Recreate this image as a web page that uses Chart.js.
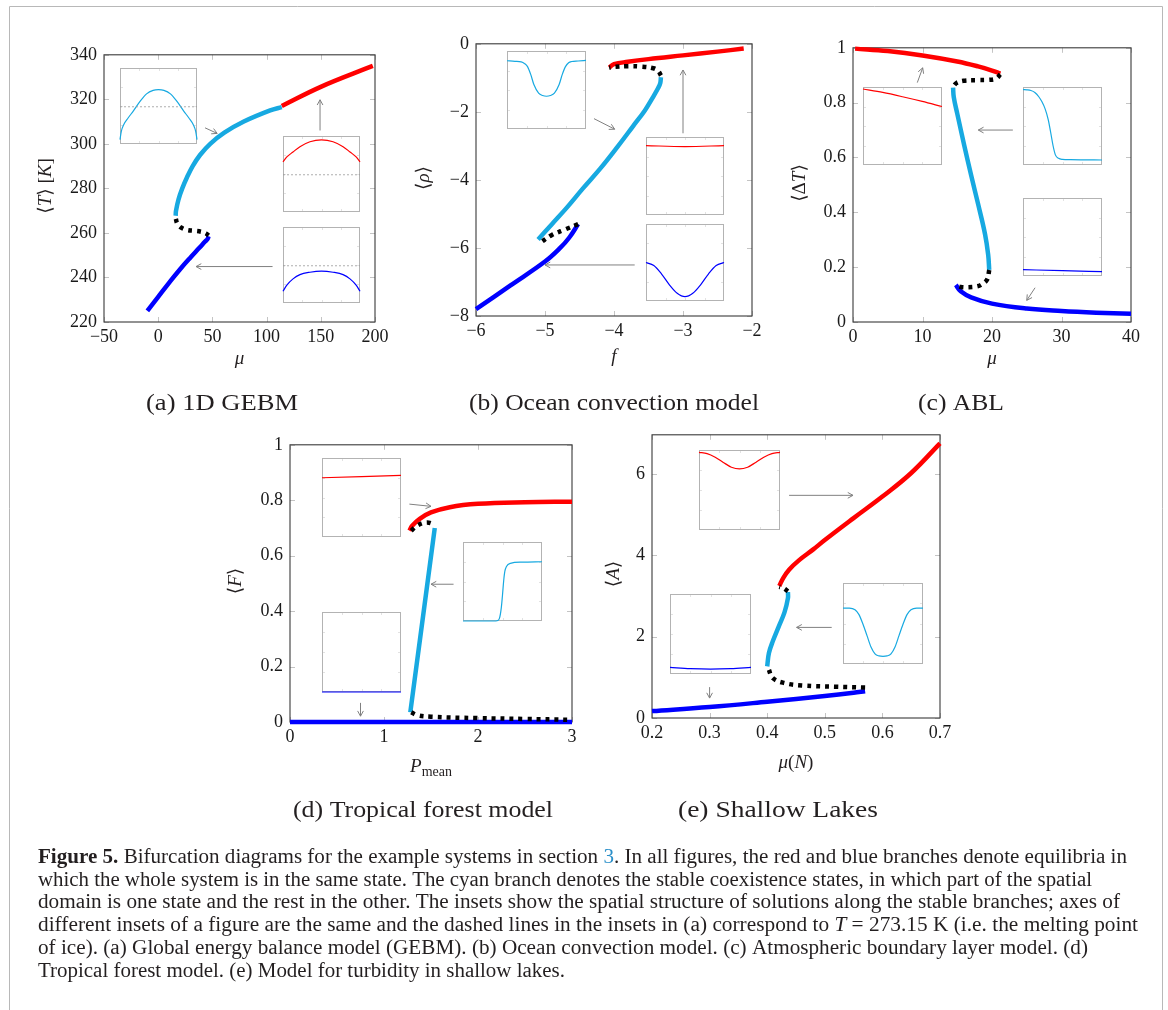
<!DOCTYPE html>
<html>
<head>
<meta charset="utf-8">
<script src="https://cdn.jsdelivr.net/npm/chart.js@4.4.1/dist/chart.umd.min.js"></script>
<style>
html, body { margin: 0; padding: 0; background: #fff; }
#page { position: relative; width: 1168px; height: 1010px; overflow: hidden; }
#page canvas { position: absolute; }
</style>
</head>
<body>
<div id="page"><canvas id="text" width="1168" height="1010" style="left:0;top:0"></canvas></div>
<script>
/* ============================= */
/*      DATA   */
/* ============================= */

// (a) 1D GEBM
const aXTicks = [-50, 0, 50, 100, 150, 200];
const aYTicks = [220, 240, 260, 280, 300, 320, 340];
const aBlueMu = [-10, 0, 10, 20, 30, 38, 43, 45.5, 46.5];
const aBlueT = [225, 231.3, 237.6, 243.6, 249.1, 253.3, 256, 257.3, 258.5];
const aDotMu = [16.3, 17.5, 20.5, 26, 33, 40, 44, 46.5];
const aDotT = [266.3, 264.3, 262.6, 261.4, 261.0, 260.5, 259.8, 258.8];
const aCyanMu = [16.1, 16.45, 18.7, 22.2, 26.6, 31.8, 38.6, 48, 61, 79, 103.3, 114];
const aCyanT = [267.7, 270, 275, 280, 285, 290, 295, 300, 305, 310, 315, 316.5];
const aRedMu = [114, 150, 198];
const aRedT = [317, 325.6, 335];
const aArrows = [[43.2, 307.2, 54.4, 304.7], [149.3, 306, 149.3, 319.8], [105.5, 244.9, 34.9, 244.9]];

// (b) Ocean convection model
const bXTicks = [-6, -5, -4, -3, -2];
const bYTicks = [-8, -6, -4, -2, 0];
const bBlueF = [-6, -5.5, -5, -4.78, -4.65, -4.52];
const bBlueR = [-7.8, -7.1, -6.4, -6.0, -5.7, -5.3];
const bDotLowF = [-4.52, -4.7, -4.9, -5.07];
const bDotLowR = [-5.3, -5.45, -5.62, -5.85];
const bCyanF = [-5.1, -4.9, -4.69, -4.45, -4.2, -3.95, -3.72, -3.55, -3.43, -3.36, -3.33, -3.32];
const bCyanR = [-5.75, -5.3, -4.83, -4.25, -3.67, -3.03, -2.41, -1.95, -1.55, -1.3, -1.16, -0.98];
const bDotUpF = [-3.32, -3.36, -3.43, -3.6, -3.8, -4.0, -4.07];
const bDotUpR = [-0.93, -0.8, -0.72, -0.67, -0.66, -0.68, -0.7];
const bRedF = [-4.07, -4.0, -3.8, -3.5, -3.0, -2.5, -2.12];
const bRedR = [-0.7, -0.6, -0.53, -0.45, -0.34, -0.23, -0.14];
const bArrows = [[-4.29, -2.2, -3.99, -2.51], [-3.0, -2.63, -3.0, -0.77], [-3.7, -6.5, -5.0, -6.5]];

// (c) ABL
const cXTicks = [0, 10, 20, 30, 40];
const cYTicks = [0, 0.2, 0.4, 0.6, 0.8, 1];
const cRedMu = [0.3, 5, 10, 15, 18, 20, 21.2];
const cRedT = [0.997, 0.988, 0.972, 0.95, 0.932, 0.917, 0.906];
const cDotUpMu = [21.2, 20.6, 19.5, 17.8, 15.9, 14.9, 14.5];
const cDotUpT = [0.903, 0.888, 0.883, 0.882, 0.88, 0.872, 0.862];
const cCyanMu = [14.4, 14.5, 15, 16, 17, 18, 19, 19.45, 19.6];
const cCyanT = [0.855, 0.82, 0.76, 0.645, 0.535, 0.43, 0.32, 0.245, 0.19];
const cDotLowMu = [19.6, 19.3, 18.5, 17.8, 16.5, 15.5, 14.8];
const cDotLowT = [0.19, 0.155, 0.137, 0.13, 0.127, 0.128, 0.133];
const cBlueMu = [14.8, 15.5, 17, 20, 25, 30, 35, 40];
const cBlueT = [0.135, 0.112, 0.09, 0.067, 0.049, 0.04, 0.034, 0.03];
const cArrows = [[9.25, 0.873, 10.03, 0.927], [23.0, 0.7, 18.03, 0.7], [26.2, 0.125, 25.0, 0.079]];

// (d) Tropical forest model
const dXTicks = [0, 1, 2, 3];
const dYTicks = [0, 0.2, 0.4, 0.6, 0.8, 1];
const dBlueP = [0, 3];
const dBlueF = [0, 0];
const dRedP = [1.27, 1.3, 1.38, 1.5, 1.7, 2, 2.5, 3];
const dRedF = [0.69, 0.708, 0.733, 0.756, 0.775, 0.787, 0.793, 0.795];
const dDotUpP = [1.29, 1.35, 1.45, 1.54];
const dDotUpF = [0.69, 0.708, 0.72, 0.713];
const dCyanP = [1.54, 1.28];
const dCyanF = [0.70, 0.035];
const dDotLowP = [1.29, 1.35, 1.5, 2, 2.5, 3];
const dDotLowF = [0.035, 0.025, 0.019, 0.014, 0.011, 0.008];
const dArrows = [[1.27, 0.786, 1.50, 0.778], [1.74, 0.497, 1.50, 0.497], [0.75, 0.069, 0.75, 0.021]];

// (e) Shallow lakes
const eXTicks = [0.2, 0.3, 0.4, 0.5, 0.6, 0.7];
const eYTicks = [0, 2, 4, 6];
const eYMax = 6.97;
const eBlueM = [0.2, 0.3, 0.4, 0.5, 0.55, 0.57];
const eBlueA = [0.17, 0.27, 0.4, 0.54, 0.62, 0.66];
const eDotLowM = [0.57, 0.52, 0.46, 0.43, 0.41, 0.402];
const eDotLowA = [0.75, 0.77, 0.8, 0.86, 0.98, 1.22];
const eCyanM = [0.4, 0.403, 0.41, 0.42, 0.43, 0.436, 0.436];
const eCyanA = [1.27, 1.6, 1.9, 2.25, 2.6, 2.95, 3.1];
const eDotUpM = [0.436, 0.428, 0.421];
const eDotUpA = [3.12, 3.2, 3.23];
const eRedM = [0.421, 0.428, 0.438, 0.455, 0.48, 0.5, 0.55, 0.6, 0.65, 0.7];
const eRedA = [3.25, 3.45, 3.65, 3.88, 4.15, 4.38, 4.92, 5.45, 6.03, 6.76];
const eArrows = [[0.438, 5.48, 0.549, 5.48], [0.512, 2.23, 0.451, 2.23], [0.300, 0.76, 0.300, 0.49]];

// insets: profiles across the domain (x and y normalised to the inset box)
const arcX = [0, 0.05, 0.13, 0.22, 0.35, 0.5, 0.65, 0.78, 0.87, 0.95, 1];
const tenthX = [0, 0.1, 0.2, 0.3, 0.4, 0.5, 0.6, 0.7, 0.8, 0.9, 1];
const edgeX = [0, 1];
const aInsetCyanX = [0, 0.017, 0.048, 0.105, 0.17, 0.26, 0.345, 0.43, 0.5, 0.57, 0.655, 0.74, 0.83, 0.895, 0.952, 0.983, 1];
const aInsetCyanY = [0.057, 0.167, 0.254, 0.342, 0.43, 0.56, 0.66, 0.706, 0.715, 0.706, 0.66, 0.56, 0.43, 0.342, 0.254, 0.167, 0.057];
const aInsetRedY = [0.66, 0.725, 0.79, 0.86, 0.925, 0.95, 0.925, 0.86, 0.79, 0.725, 0.66];
const aInsetBlueY = [0.154, 0.235, 0.317, 0.374, 0.405, 0.419, 0.405, 0.374, 0.317, 0.235, 0.154];
const aIceLevel = [0.49, 0.49];
const bInsetCyanX = [0, 0.1, 0.18, 0.22, 0.26, 0.3, 0.34, 0.4, 0.45, 0.5, 0.55, 0.6, 0.66, 0.7, 0.74, 0.78, 0.82, 0.9, 1];
const bInsetCyanY = [0.875, 0.868, 0.86, 0.84, 0.8, 0.7, 0.57, 0.46, 0.43, 0.42, 0.43, 0.46, 0.57, 0.7, 0.8, 0.85, 0.865, 0.872, 0.88];
const bInsetRedX = [0, 0.5, 1];
const bInsetRedY = [0.89, 0.876, 0.89];
const bInsetBlueY = [0.5, 0.46, 0.35, 0.21, 0.1, 0.056, 0.1, 0.21, 0.35, 0.46, 0.5];
const cInsetRedX = [0, 0.25, 0.5, 0.75, 1];
const cInsetRedY = [0.974, 0.93, 0.875, 0.815, 0.75];
const cInsetCyanX = [0, 0.05, 0.1, 0.15, 0.2, 0.24, 0.28, 0.32, 0.35, 0.38, 0.41, 0.45, 0.5, 0.6, 0.8, 1];
const cInsetCyanY = [0.966, 0.963, 0.955, 0.93, 0.875, 0.81, 0.72, 0.58, 0.42, 0.25, 0.13, 0.085, 0.072, 0.068, 0.066, 0.064];
const cInsetBlueX = [0, 0.5, 1];
const cInsetBlueY = [0.081, 0.068, 0.056];
const dInsetRedY = [0.75, 0.78];
const dInsetBlueY = [0, 0];
const dInsetCyanX = [0, 0.2, 0.4, 0.43, 0.46, 0.485, 0.5, 0.515, 0.53, 0.55, 0.6, 0.75, 1];
const dInsetCyanY = [0, 0, 0, 0.003, 0.03, 0.17, 0.33, 0.51, 0.63, 0.69, 0.73, 0.745, 0.75];
const eInsetRedY = [0.97, 0.955, 0.91, 0.845, 0.785, 0.763, 0.785, 0.845, 0.91, 0.955, 0.97];
const eInsetBlueX = [0, 0.25, 0.5, 0.75, 1];
const eInsetBlueY = [0.083, 0.068, 0.062, 0.068, 0.083];
const eInsetCyanX = [0, 0.08, 0.15, 0.2, 0.25, 0.3, 0.35, 0.4, 0.45, 0.5, 0.55, 0.6, 0.65, 0.7, 0.75, 0.8, 0.85, 0.92, 1];
const eInsetCyanY = [0.69, 0.69, 0.67, 0.61, 0.49, 0.35, 0.21, 0.125, 0.1, 0.095, 0.1, 0.125, 0.21, 0.35, 0.49, 0.61, 0.67, 0.69, 0.69];

/* ============================= */
/*      STYLE / LAYOUT           */
/* ============================= */
const RED = '#ff0000', BLUE = '#0000ff', CYAN = '#17a9e1', INK = '#231f20';
const SERIF = '"Liberation Serif", "DejaVu Sans", serif';
const YW = 70, XH = 52, PT = 14, PR = 24;
const page = document.getElementById('page');

const pts = (xs, ys) => xs.map((x, i) => ({ x: x, y: ys[i] }));
const fmt = v => String(v).replace('-', '\u2212');

function branch(xs, ys, color, dotted) {
    return {
        data: pts(xs, ys),
        borderColor: color,
        borderWidth: 4.5,
        borderDash: dotted ? [4, 5] : [],
        borderCapStyle: 'butt',
        tension: 0.4,
        pointRadius: 0,
        fill: false,
        clip: 6
    };
}

// frame + inward tick marks (pgfplots look)
const framePlugin = {
    id: 'frame',
    beforeDatasetsDraw(chart) {
        const { ctx, chartArea: a, scales: { x, y } } = chart;
        ctx.save();
        ctx.strokeStyle = '#c4c4c4';
        ctx.lineWidth = 1;
        ctx.beginPath();
        x.ticks.forEach(t => {
            const p = Math.round(x.getPixelForValue(t.value)) + 0.5;
            ctx.moveTo(p, a.bottom); ctx.lineTo(p, a.bottom - 5);
            ctx.moveTo(p, a.top); ctx.lineTo(p, a.top + 5);
        });
        y.ticks.forEach(t => {
            const p = Math.round(y.getPixelForValue(t.value)) + 0.5;
            ctx.moveTo(a.left, p); ctx.lineTo(a.left + 5, p);
            ctx.moveTo(a.right, p); ctx.lineTo(a.right - 5, p);
        });
        ctx.stroke();
        ctx.strokeStyle = '#3a3a3a';
        ctx.lineWidth = 1.1;
        ctx.strokeRect(a.left, a.top, a.width, a.height);
        ctx.restore();
    }
};

function arrowPlugin(list) {
    return {
        id: 'arrows',
        afterDatasetsDraw(chart) {
            const { ctx, scales: { x, y } } = chart;
            ctx.save();
            ctx.strokeStyle = '#808080';
            ctx.lineWidth = 1;
            list.forEach(([x1, y1, x2, y2]) => {
                const px1 = x.getPixelForValue(x1), py1 = y.getPixelForValue(y1);
                const px2 = x.getPixelForValue(x2), py2 = y.getPixelForValue(y2);
                const ang = Math.atan2(py2 - py1, px2 - px1), h = 6;
                ctx.beginPath();
                ctx.moveTo(px1, py1); ctx.lineTo(px2, py2);
                ctx.moveTo(px2 - h * Math.cos(ang - 0.5), py2 - h * Math.sin(ang - 0.5));
                ctx.lineTo(px2, py2);
                ctx.lineTo(px2 - h * Math.cos(ang + 0.5), py2 - h * Math.sin(ang + 0.5));
                ctx.stroke();
            });
            ctx.restore();
        }
    };
}

function axis(range, ticks, w) {
    return {
        type: 'linear',
        min: range[0],
        max: range[1],
        afterBuildTicks: s => { s.ticks = ticks.map(v => ({ value: v })); },
        afterFit: s => { if (w === 'x') s.height = XH; else s.width = YW; },
        grid: { display: false, drawTicks: false },
        border: { display: false },
        ticks: {
            autoSkip: false, maxRotation: 0,
            padding: w === 'x' ? 4 : 7,
            color: '#1a1a1a',
            font: { family: SERIF, size: 18 },
            callback: v => fmt(v)
        }
    };
}

function mainChart(box, xr, yr, xTicks, yTicks, sets, arrows) {
    const c = document.createElement('canvas');
    c.width = box.r - box.l + YW + PR;
    c.height = box.b - box.t + PT + XH;
    c.style.left = (box.l - YW) + 'px';
    c.style.top = (box.t - PT) + 'px';
    page.appendChild(c);
    new Chart(c, {
        type: 'line',
        data: { datasets: sets },
        options: {
            responsive: false, animation: false, events: [],
            layout: { padding: { left: 0, top: PT, right: PR, bottom: 0 } },
            plugins: { legend: { display: false }, tooltip: { enabled: false } },
            scales: { x: axis(xr, xTicks, 'x'), y: axis(yr, yTicks, 'y') }
        },
        plugins: [framePlugin, arrowPlugin(arrows)]
    });
}

const insetFrame = {
    id: 'insetFrame',
    beforeDatasetsDraw(chart) {
        const { ctx, chartArea: a } = chart;
        ctx.save();
        ctx.strokeStyle = '#e2e2e2';
        ctx.lineWidth = 1;
        ctx.beginPath();
        [0.25, 0.5, 0.75].forEach(f => {
            const px = Math.round(a.left + f * a.width) + 0.5, py = Math.round(a.top + f * a.height) + 0.5;
            ctx.moveTo(px, a.top); ctx.lineTo(px, a.top + 3);
            ctx.moveTo(px, a.bottom); ctx.lineTo(px, a.bottom - 3);
            ctx.moveTo(a.left, py); ctx.lineTo(a.left + 3, py);
            ctx.moveTo(a.right, py); ctx.lineTo(a.right - 3, py);
        });
        ctx.stroke();
        ctx.strokeStyle = '#b3b3b3';
        ctx.strokeRect(Math.round(a.left) + 0.5, Math.round(a.top) + 0.5, Math.round(a.width) - 1, Math.round(a.height) - 1);
        ctx.restore();
    }
};

function profile(xs, ys, color, dashed) {
    return {
        data: pts(xs, ys),
        borderColor: color,
        borderWidth: dashed ? 0.8 : 1.2,
        borderDash: dashed ? [2, 2] : [],
        cubicInterpolationMode: 'monotone',
        pointRadius: 0, fill: false, clip: 3
    };
}

function inset(box, sets) {
    const c = document.createElement('canvas');
    c.width = box.w + 6; c.height = box.h + 6;
    c.style.left = (box.l - 3) + 'px';
    c.style.top = (box.t - 3) + 'px';
    page.appendChild(c);
    new Chart(c, {
        type: 'line',
        data: { datasets: sets },
        options: {
            responsive: false, animation: false, events: [],
            layout: { padding: 3 },
            plugins: { legend: { display: false }, tooltip: { enabled: false } },
            scales: {
                x: { type: 'linear', min: 0, max: 1, display: false },
                y: { type: 'linear', min: 0, max: 1, display: false }
            }
        },
        plugins: [insetFrame]
    });
}

/* ============================= */
/*      TEXT LAYER               */
/* ============================= */
const tc = document.getElementById('text').getContext('2d');
function drawRich(segs, o) {
    let total = 0;
    segs.forEach(s => { tc.font = s[1]; s.w = tc.measureText(s[0]).width; total += s.w; });
    const k = o.width ? o.width / total : 1;
    tc.save();
    tc.translate(o.x, o.y);
    if (o.rotate) tc.rotate(-Math.PI / 2);
    tc.scale(k, 1);
    let x = o.center ? -total / 2 : 0;
    segs.forEach(s => {
        tc.font = s[1];
        tc.fillStyle = s[2] || INK;
        tc.fillText(s[0], x, s[3] || 0);
        x += s.w;
    });
    tc.restore();
}

// outer frame of the figure
tc.strokeStyle = '#b8b8b8';
tc.lineWidth = 1;
tc.beginPath();
tc.moveTo(9.5, 1010); tc.lineTo(9.5, 6.5); tc.lineTo(1162.5, 6.5); tc.lineTo(1162.5, 1010);
tc.stroke();

const UP = '19px ' + SERIF, IT = 'italic 19px ' + SERIF, SUB = '14px ' + SERIF;
// axis titles
drawRich([['⟨', UP], ['T', IT], ['⟩ [', UP], ['K', IT], [']', UP]], { x: 51, y: 186, rotate: true, center: true });
drawRich([['μ', IT]], { x: 239.5, y: 364, center: true });
drawRich([['⟨', UP], ['ρ', IT], ['⟩', UP]], { x: 429, y: 178, rotate: true, center: true });
drawRich([['f', IT]], { x: 614, y: 362, center: true });
drawRich([['⟨Δ', UP], ['T', IT], ['⟩', UP]], { x: 805, y: 183, rotate: true, center: true });
drawRich([['μ', IT]], { x: 992, y: 364, center: true });
drawRich([['⟨', UP], ['F', IT], ['⟩', UP]], { x: 241, y: 581, rotate: true, center: true });
drawRich([['P', IT], ['mean', SUB, INK, 4]], { x: 431, y: 772, center: true });
drawRich([['⟨', UP], ['A', IT], ['⟩', UP]], { x: 619, y: 574, rotate: true, center: true });
drawRich([['μ', IT], ['(', UP], ['N', IT], [')', UP]], { x: 796, y: 768, center: true });

// sub-figure captions
const CAP = '24px ' + SERIF;
drawRich([['(a) 1D GEBM', CAP]], { x: 222, y: 410, center: true, width: 152 });
drawRich([['(b) Ocean convection model', CAP]], { x: 614, y: 410, center: true, width: 290 });
drawRich([['(c) ABL', CAP]], { x: 961, y: 410, center: true, width: 86 });
drawRich([['(d) Tropical forest model', CAP]], { x: 423, y: 817, center: true, width: 260 });
drawRich([['(e) Shallow Lakes', CAP]], { x: 778, y: 817, center: true, width: 200 });

// figure caption
const R = '20px ' + SERIF, B = 'bold 20px ' + SERIF, I = 'italic 20px ' + SERIF;
const capLines = [
    [[['Figure 5.', B], [' Bifurcation diagrams for the example systems in section ', R], ['3', R, '#2a8fc9'], ['. In all figures, the red and blue branches denote equilibria in', R]], 1127],
    [[['which the whole system is in the same state. The cyan branch denotes the stable coexistence states, in which part of the spatial', R]], 1092],
    [[['domain is one state and the rest in the other. The insets show the spatial structure of solutions along the stable branches; axes of', R]], 1120],
    [[['different insets of a figure are the same and the dashed lines in the insets in (a) correspond to ', R], ['T', I], [' = 273.15 K (i.e. the melting point', R]], 1138],
    [[['of ice). (a) Global energy balance model (GEBM). (b) Ocean convection model. (c) Atmospheric boundary layer model. (d)', R]], 1088],
    [[['Tropical forest model. (e) Model for turbidity in shallow lakes.', R]], 565]
];
capLines.forEach(([segs, end], i) => {
    drawRich(segs, { x: 38, y: 863 + i * 22.7, width: end - 38 });
});

/* ============================= */
/*      MAIN PANELS              */
/* ============================= */
mainChart({ l: 104, t: 51, r: 375, b: 322 }, [-50, 200], [220, 340], aXTicks, aYTicks, [
    branch(aDotMu, aDotT, '#000', true),
    branch(aBlueMu, aBlueT, BLUE),
    branch(aCyanMu, aCyanT, CYAN),
    branch(aRedMu, aRedT, RED)
], aArrows);

mainChart({ l: 476, t: 40, r: 752, b: 316 }, [-6, -2], [-8, 0], bXTicks, bYTicks, [
    branch(bDotLowF, bDotLowR, '#000', true),
    branch(bDotUpF, bDotUpR, '#000', true),
    branch(bBlueF, bBlueR, BLUE),
    branch(bCyanF, bCyanR, CYAN),
    branch(bRedF, bRedR, RED)
], bArrows);

mainChart({ l: 853, t: 44, r: 1131, b: 322 }, [0, 40], [0, 1], cXTicks, cYTicks, [
    branch(cDotUpMu, cDotUpT, '#000', true),
    branch(cDotLowMu, cDotLowT, '#000', true),
    branch(cRedMu, cRedT, RED),
    branch(cCyanMu, cCyanT, CYAN),
    branch(cBlueMu, cBlueT, BLUE)
], cArrows);

mainChart({ l: 290, t: 441, r: 572, b: 722 }, [0, 3], [0, 1], dXTicks, dYTicks, [
    branch(dDotUpP, dDotUpF, '#000', true),
    branch(dDotLowP, dDotLowF, '#000', true),
    branch(dCyanP, dCyanF, CYAN),
    branch(dRedP, dRedF, RED),
    branch(dBlueP, dBlueF, BLUE)
], dArrows);

mainChart({ l: 652, t: 431, r: 940, b: 718 }, [0.2, 0.7], [0, eYMax], eXTicks, eYTicks, [
    branch(eDotLowM, eDotLowA, '#000', true),
    branch(eDotUpM, eDotUpA, '#000', true),
    branch(eBlueM, eBlueA, BLUE),
    branch(eCyanM, eCyanA, CYAN),
    branch(eRedM, eRedA, RED)
], eArrows);

/* ============================= */
/*      INSETS                   */
/* ============================= */
inset({ l: 120, t: 68, w: 77, h: 76 }, [profile(edgeX, aIceLevel, '#999', true), profile(aInsetCyanX, aInsetCyanY, CYAN)]);
inset({ l: 283, t: 136, w: 77, h: 76 }, [profile(edgeX, aIceLevel, '#999', true), profile(arcX, aInsetRedY, RED)]);
inset({ l: 283, t: 227, w: 77, h: 76 }, [profile(edgeX, aIceLevel, '#999', true), profile(arcX, aInsetBlueY, BLUE)]);

inset({ l: 507, t: 51, w: 79, h: 78 }, [profile(bInsetCyanX, bInsetCyanY, CYAN)]);
inset({ l: 646, t: 137, w: 78, h: 78 }, [profile(bInsetRedX, bInsetRedY, RED)]);
inset({ l: 646, t: 224, w: 78, h: 77 }, [profile(tenthX, bInsetBlueY, BLUE)]);

inset({ l: 863, t: 87, w: 79, h: 78 }, [profile(cInsetRedX, cInsetRedY, RED)]);
inset({ l: 1023, t: 87, w: 79, h: 78 }, [profile(cInsetCyanX, cInsetCyanY, CYAN)]);
inset({ l: 1023, t: 198, w: 79, h: 78 }, [profile(cInsetBlueX, cInsetBlueY, BLUE)]);

inset({ l: 322, t: 458, w: 79, h: 79 }, [profile(edgeX, dInsetRedY, RED)]);
inset({ l: 322, t: 612, w: 79, h: 80 }, [profile(edgeX, dInsetBlueY, BLUE)]);
inset({ l: 463, t: 542, w: 79, h: 79 }, [profile(dInsetCyanX, dInsetCyanY, CYAN)]);

inset({ l: 699, t: 450, w: 81, h: 80 }, [profile(tenthX, eInsetRedY, RED)]);
inset({ l: 670, t: 594, w: 81, h: 80 }, [profile(eInsetBlueX, eInsetBlueY, BLUE)]);
inset({ l: 843, t: 583, w: 80, h: 81 }, [profile(eInsetCyanX, eInsetCyanY, CYAN)]);
</script>
</body>
</html>
